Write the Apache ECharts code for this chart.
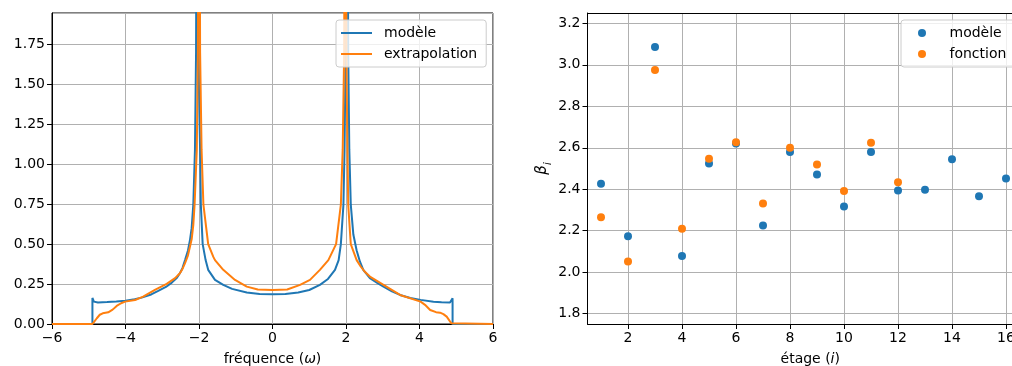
<!DOCTYPE html>
<html><head><meta charset="utf-8">
<script src="https://cdn.jsdelivr.net/npm/echarts@6/dist/echarts.min.js"></script>
<style>html,body{margin:0;padding:0;background:#fff}#c{width:1012px;height:366px}</style>
</head><body><div id="c"></div>
<script>
// ---- Left panel: spectral density vs frequency
const omegaModele = [-6.00,-4.90,-4.90,-4.86,-4.75,-4.50,-4.25,-4.00,-3.75,-3.56,-3.30,-3.11,-2.90,-2.74,-2.60,-2.52,-2.45,-2.38,-2.30,-2.245,-2.20,-2.155,-2.11,-2.08,-2.05,-2.02,-1.97,-1.95,-1.90,-1.82,-1.75,-1.565,-1.34,-1.10,-0.70,-0.35,0.00,0.35,0.70,1.00,1.29,1.50,1.70,1.80,1.86,1.93,1.96,1.99,2.03,2.06,2.09,2.13,2.20,2.29,2.38,2.47,2.65,2.85,3.02,3.25,3.47,3.75,4.03,4.38,4.60,4.83,4.87,4.90,4.90,6.00];
const densiteModele = [0,0,0.163,0.140,0.134,0.137,0.141,0.146,0.155,0.165,0.185,0.207,0.232,0.259,0.290,0.318,0.350,0.400,0.460,0.527,0.600,0.747,1.090,1.700,4.000,1.700,1.090,0.747,0.500,0.400,0.339,0.276,0.245,0.220,0.197,0.188,0.186,0.188,0.197,0.213,0.245,0.280,0.339,0.400,0.500,0.747,1.090,1.700,4.000,1.700,1.090,0.747,0.560,0.460,0.390,0.339,0.287,0.258,0.234,0.205,0.182,0.163,0.151,0.140,0.136,0.134,0.140,0.161,0,0];
const omegaExtrap = [-6.00,-4.90,-4.85,-4.78,-4.70,-4.62,-4.47,-4.35,-4.24,-4.12,-4.01,-3.74,-3.52,-3.20,-2.88,-2.65,-2.52,-2.45,-2.38,-2.30,-2.245,-2.20,-2.155,-2.12,-2.06,-2.03,-2.00,-1.97,-1.93,-1.88,-1.75,-1.61,-1.565,-1.34,-1.02,-0.70,-0.40,0.00,0.40,0.75,1.02,1.29,1.52,1.73,1.86,1.91,1.95,1.98,2.01,2.04,2.06,2.13,2.29,2.40,2.52,2.65,3.02,3.47,4.03,4.15,4.29,4.45,4.56,4.65,4.74,4.82,4.87,4.90,6.00];
const densiteExtrap = [0,0,0.015,0.036,0.058,0.067,0.073,0.090,0.113,0.130,0.140,0.150,0.171,0.213,0.251,0.287,0.318,0.345,0.381,0.430,0.485,0.530,0.620,0.747,1.090,1.700,4.000,1.700,1.090,0.747,0.500,0.420,0.400,0.339,0.276,0.234,0.216,0.213,0.216,0.245,0.276,0.339,0.400,0.500,0.747,1.090,1.700,4.000,1.700,1.090,0.747,0.500,0.400,0.360,0.325,0.297,0.245,0.182,0.140,0.120,0.088,0.074,0.071,0.062,0.046,0.020,0.004,0,0];

// ---- Right panel: beta_i per stage
const etagesModele = [1,2,3,4,5,6,7,8,9,10,11,12,13,14,15,16];
const betaModele = [2.426,2.173,3.086,2.078,2.524,2.621,2.225,2.579,2.471,2.317,2.580,2.394,2.397,2.545,2.366,2.452];
const etagesFonction = [1,2,3,4,5,6,7,8,9,10,11,12];
const betaFonction = [2.265,2.051,2.975,2.209,2.547,2.627,2.331,2.600,2.519,2.391,2.624,2.434];

const labelsSerie = ['modèle','extrapolation','fonction'];

const FONT = 'DejaVu Sans';
const BLUE = '#1f77b4', ORANGE = '#ff7f0e';
const pair = (xs, ys) => xs.map((x, i) => [x, ys[i]]);

const axisCommon = {
  axisLine: {show: true, onZero: false, lineStyle: {color: '#000', width: 1}},
  axisTick: {show: true, length: 5, inside: false, lineStyle: {color: '#000', width: 1}},
  splitLine: {show: true, lineStyle: {color: '#b0b0b0', width: 1}},
  nameTextStyle: {color: '#000', fontFamily: FONT, fontSize: 14}
};
const lab = (extra) => Object.assign({color: '#000', fontFamily: FONT, fontSize: 14, margin: 7}, extra);
const richName = {
  n: {fontFamily: FONT, fontSize: 14, color: '#000'},
  i: {fontFamily: FONT, fontSize: 14, color: '#000', fontStyle: 'italic'},
  b: {fontFamily: FONT, fontSize: 15, color: '#000', fontStyle: 'italic', lineHeight: 22},
  s: {fontFamily: FONT, fontSize: 10, color: '#000', fontStyle: 'italic', verticalAlign: 'bottom', lineHeight: 22}
};

const legendCommon = {
  orient: 'vertical', selectedMode: false,
  backgroundColor: 'rgba(255,255,255,0.8)', borderColor: '#cccccc', borderWidth: 1, borderRadius: 3,
  textStyle: {fontFamily: FONT, fontSize: 14, color: '#000', lineHeight: 16}
};

const X2MAX = 17;

const chart = echarts.init(document.getElementById('c'), null, {renderer: 'canvas'});
chart.setOption({
  animation: false,
  backgroundColor: '#fff',
  textStyle: {fontFamily: FONT},
  grid: [
    {left: 52, top: 13, width: 441, height: 311, show: true, borderColor: '#000', borderWidth: 1,
     backgroundColor: 'transparent', outerBoundsMode: 'none', containLabel: false},
    {left: 587.5, top: 13, width: 445.5, height: 311, show: false, outerBoundsMode: 'none', containLabel: false}
  ],
  xAxis: [
    Object.assign({}, axisCommon, {
      type: 'value', gridIndex: 0, min: -6, max: 6, interval: 2,
      axisLabel: lab({formatter: v => String(v).replace('-', '\u2212')}),
      name: '{n|fréquence (}{i|ω}{n|)}', nameLocation: 'middle', nameGap: 28,
      nameTextStyle: {color: '#000', fontFamily: FONT, fontSize: 14, rich: richName}
    }),
    Object.assign({}, axisCommon, {
      type: 'value', gridIndex: 1, min: 0.5, max: X2MAX, splitNumber: 8,
      axisLabel: lab({showMinLabel: false, showMaxLabel: false}),
      name: '{n|étage (}{i|i}{n|)}', nameLocation: 'middle', nameGap: 28,
      nameTextStyle: {color: '#000', fontFamily: FONT, fontSize: 14, rich: richName}
    }),
    {
      type: 'value', gridIndex: 1, position: 'top', min: 0.5, max: X2MAX,
      axisLine: {show: true, onZero: false, lineStyle: {color: '#000', width: 1}},
      axisTick: {show: false}, axisLabel: {show: false}, splitLine: {show: false}
    }
  ],
  yAxis: [
    Object.assign({}, axisCommon, {
      type: 'value', gridIndex: 0, min: 0, max: 1.947, interval: 0.25,
      axisLabel: lab({showMaxLabel: false, formatter: v => v.toFixed(2)})
    }),
    Object.assign({}, axisCommon, {
      type: 'value', gridIndex: 1, min: 1.75, max: 3.25, splitNumber: 7,
      axisLabel: lab({showMinLabel: false, showMaxLabel: false, formatter: v => v.toFixed(1)}),
      name: '{b|β}{s|i}', nameLocation: 'middle', nameRotate: 90, nameGap: 34,
      nameTextStyle: {color: '#000', fontFamily: FONT, fontSize: 15, rich: richName}
    })
  ],
  legend: [
    Object.assign({}, legendCommon, {
      data: [{name: labelsSerie[0], icon: 'rect'}, {name: labelsSerie[1], icon: 'rect'}],
      left: 336, top: 20, itemWidth: 31, itemHeight: 2, itemGap: 5, padding: [5, 9, 5, 5],
      textStyle: Object.assign({}, legendCommon.textStyle, {padding: [0, 0, 0, 7]})
    }),
    Object.assign({}, legendCommon, {
      data: [{name: labelsSerie[0], icon: 'circle'}, {name: labelsSerie[2], icon: 'circle'}],
      left: 901, top: 20, itemWidth: 41, itemHeight: 8, itemGap: 5, padding: [5, 10, 5, 17],
      textStyle: Object.assign({}, legendCommon.textStyle, {padding: [0, 0, 0, 2]})
    })
  ],
  series: [
    {type: 'line', name: labelsSerie[0], xAxisIndex: 0, yAxisIndex: 0, data: pair(omegaModele, densiteModele),
     showSymbol: false, symbol: 'none', clip: true, lineStyle: {color: BLUE, width: 2}, itemStyle: {color: BLUE}},
    {type: 'line', name: labelsSerie[1], xAxisIndex: 0, yAxisIndex: 0, data: pair(omegaExtrap, densiteExtrap),
     showSymbol: false, symbol: 'none', clip: true, lineStyle: {color: ORANGE, width: 2}, itemStyle: {color: ORANGE}},
    {type: 'scatter', name: labelsSerie[0], xAxisIndex: 1, yAxisIndex: 1, data: pair(etagesModele, betaModele),
     symbol: 'circle', symbolSize: 8, clip: true, itemStyle: {color: BLUE, opacity: 1}},
    {type: 'scatter', name: labelsSerie[2], xAxisIndex: 1, yAxisIndex: 1, data: pair(etagesFonction, betaFonction),
     symbol: 'circle', symbolSize: 8, clip: true, itemStyle: {color: ORANGE, opacity: 1}}
  ]
});
</script>
</body></html>
